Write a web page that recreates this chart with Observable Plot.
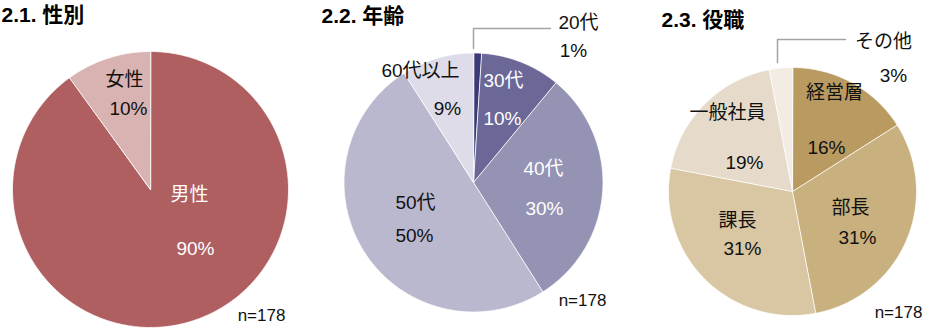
<!DOCTYPE html>
<html>
<head>
<meta charset="utf-8">
<script src="https://cdn.jsdelivr.net/npm/d3@7"></script>
<script src="https://cdn.jsdelivr.net/npm/@observablehq/plot@0.6"></script>
<style>
  body { margin: 0; background: #fff; }
  #chart { width: 925px; height: 333px; }
</style>
</head>
<body>
<div id="chart"></div>
<script>
// ---------- DATA ----------
const titles = ["2.1. 性別", "2.2. 年齢", "2.3. 役職"];
const sampleNote = "n=178";

const genderLabels = ["男性", "女性"];
const genderValues = [90, 10];

const ageLabels = ["20代", "30代", "40代", "50代", "60代以上"];
const ageValues = [1, 10, 30, 50, 9];

const roleLabels = ["経営層", "部長", "課長", "一般社員", "その他"];
const roleValues = [16, 31, 31, 19, 3];

// ---------- STYLES ----------
const genderColors = ["#b05f61", "#d9b2b2"];
const ageColors = ["#3b3a78", "#6b6898", "#9593b4", "#bab8cf", "#dddce8"];
const roleColors = ["#b99b62", "#c9b07f", "#d9c6a2", "#e6dbca", "#f3ece3"];
const FONT = "'Liberation Sans', 'Noto Sans CJK JP', sans-serif";

// ---------- LAYOUT ----------
// pie geometry (pixels)
const pies = [
  { labels: genderLabels, values: genderValues, cx: 150, cy: 189, r: 138, titleX: 1, titleY: 15, noteX: 261, noteY: 315 },
  { labels: ageLabels, values: ageValues, cx: 473, cy: 182, r: 129.5, titleX: 321, titleY: 15.5, noteX: 582, noteY: 300 },
  { labels: roleLabels, values: roleValues, cx: 792, cy: 191, r: 124, titleX: 661, titleY: 20, noteX: 898, noteY: 312 }
];
// label placement relative to pie centre: [name dx, name dy, value dx, value dy, dark?]
const labelLayout = [
  [[39, 5, 45, 59, false], [-26, -110, -22, -81, true]],
  [[105, -160, 100, -132, true], [30, -102, 29, -64, false], [70, -14, 71, 26, false], [-58, 20, -59, 53, true], [-53, -112, -26, -74, true]],
  [[42, -99, 34, -44, true], [58, 16, 65, 46, true], [-55, 29, -50, 57, true], [-65, -79, -48, -29, true], [91, -150, 101, -116, true]]
];
// leader lines for small slices: [pieIndex, sliceIndex, points relative to centre]
const leaders = [
  [1, 0, [[0, -134], [0, -154], [77, -154]]],
  [2, 4, [[-15, -129], [-15, -152], [53, -152]]]
];

// ---------- BUILD ----------
const sliceRows = [];
const nameRows = [];
const valueRows = [];
const leaderRows = [];
pies.forEach((p, pi) => {
  const arcs = d3.pie().sort(null).value(d => d)(p.values);
  arcs.forEach((a, i) => {
    const key = p.labels[i];
    sliceRows.push({ key, x: p.cx, y: p.cy });
    const n = Math.max(2, Math.ceil((a.endAngle - a.startAngle) / (Math.PI / 360)));
    for (let k = 0; k <= n; k++) {
      const t = a.startAngle + (a.endAngle - a.startAngle) * k / n;
      sliceRows.push({ key, x: p.cx + p.r * Math.sin(t), y: p.cy - p.r * Math.cos(t) });
    }
    const L = labelLayout[pi][i];
    nameRows.push({ text: key, x: p.cx + L[0], y: p.cy + L[1], dark: L[4] });
    valueRows.push({ text: p.values[i] + "%", x: p.cx + L[2], y: p.cy + L[3], dark: L[4] });
  });
});
leaders.forEach(([pi, si, pts], li) => {
  const p = pies[pi];
  pts.forEach(([dx, dy]) => leaderRows.push({ id: li, x: p.cx + dx, y: p.cy + dy }));
});
const titleRows = pies.map((p, i) => ({ text: titles[i], x: p.titleX, y: p.titleY }));
const noteRows = pies.map(p => ({ text: sampleNote, x: p.noteX, y: p.noteY }));

const allLabels = [...genderLabels, ...ageLabels, ...roleLabels];
const allColors = [...genderColors, ...ageColors, ...roleColors];
const textRows = [...nameRows, ...valueRows];

const chart = Plot.plot({
  width: 925,
  height: 333,
  margin: 0,
  style: { fontFamily: FONT, background: "#fff" },
  x: { domain: [0, 925], range: [0, 925], axis: null },
  y: { domain: [0, 333], range: [0, 333], axis: null },
  color: { domain: allLabels, range: allColors },
  marks: [
    Plot.line(sliceRows, { x: "x", y: "y", z: "key", fill: "key", stroke: "white", strokeWidth: 0.8, curve: "linear-closed" }),
    Plot.line(leaderRows, { x: "x", y: "y", z: "id", stroke: "#a3a3a3", strokeWidth: 1.5 }),
    Plot.text(textRows.filter(d => d.dark), { x: "x", y: "y", text: "text", fill: "#111", fontSize: 19, textAnchor: "middle", lineAnchor: "middle", fontFamily: FONT }),
    Plot.text(textRows.filter(d => !d.dark), { x: "x", y: "y", text: "text", fill: "white", fontSize: 19, textAnchor: "middle", lineAnchor: "middle", fontFamily: FONT }),
    Plot.text(noteRows, { x: "x", y: "y", text: "text", fill: "#111", fontSize: 17, textAnchor: "middle", lineAnchor: "middle", fontFamily: FONT }),
    Plot.text(titleRows, { x: "x", y: "y", text: "text", fill: "#000", fontSize: 21, fontWeight: "bold", textAnchor: "start", lineAnchor: "middle", fontFamily: FONT })
  ]
});
document.getElementById("chart").appendChild(chart);
</script>
</body>
</html>
